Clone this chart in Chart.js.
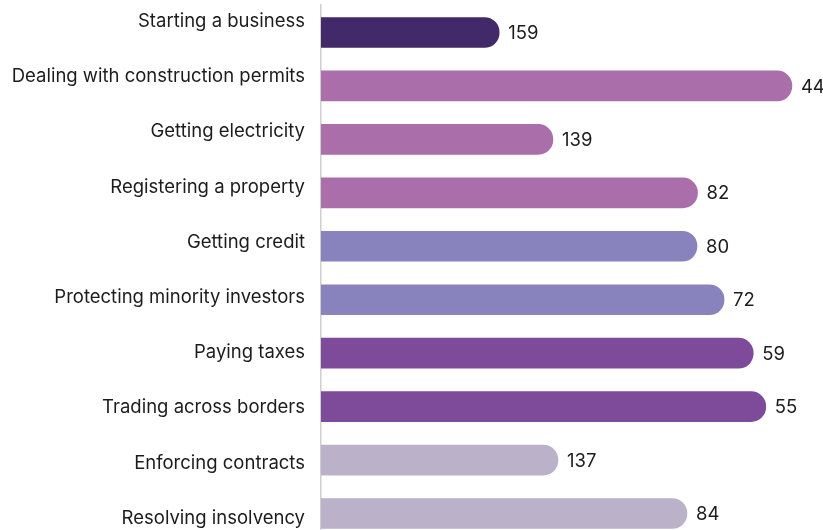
<!DOCTYPE html>
<html>
<head>
<meta charset="utf-8">
<script src="https://cdn.jsdelivr.net/npm/chart.js@4.4.1/dist/chart.umd.min.js"></script>
<style>
  html, body { margin: 0; padding: 0; background: #fff; overflow: hidden; }
  #wrap { position: relative; width: 823px; height: 530px; }
</style>
</head>
<body>
<div id="wrap"><canvas id="chart"></canvas></div>
<script>
// Doing Business indicator areas, top to bottom
const categories = [
  'Starting a business',
  'Dealing with construction permits',
  'Getting electricity',
  'Registering a property',
  'Getting credit',
  'Protecting minority investors',
  'Paying taxes',
  'Trading across borders',
  'Enforcing contracts',
  'Resolving insolvency'
];

// Rank shown at the end of each bar
const ranks = [159, 44, 139, 82, 80, 72, 59, 55, 137, 84];

// Score (0-100) that sets each bar's length
const scores = [35.5, 93.8, 46.2, 75.0, 74.9, 80.3, 86.1, 88.6, 47.2, 72.9];

const barColors = [
  '#42296a',
  '#aa6eab', '#aa6eab', '#aa6eab',
  '#8983bd', '#8983bd',
  '#7e4a9a', '#7e4a9a',
  '#bbb1c9', '#bbb1c9'
];

const TEXT = '#1c1c1c';
const FONT = 'Inter';
const FONT_SIZE = 18.5;

// Writes the rank just past the rounded end of every bar
const rankLabels = {
  id: 'rankLabels',
  afterDatasetsDraw(chart) {
    const ctx = chart.ctx;
    const meta = chart.getDatasetMeta(0);
    ctx.save();
    ctx.font = FONT_SIZE + 'px ' + FONT;
    ctx.fillStyle = TEXT;
    ctx.textAlign = 'left';
    ctx.textBaseline = 'middle';
    meta.data.forEach((bar, i) => {
      ctx.fillText(String(ranks[i]), bar.x + 9, bar.y + 1);
    });
    ctx.restore();
  }
};

new Chart(document.getElementById('chart'), {
  type: 'bar',
  data: {
    datasets: [{
      data: scores.map((s, i) => ({ x: s, y: i })),
      backgroundColor: barColors,
      barThickness: 30,
      borderRadius: 15,
      borderSkipped: 'start',
      yAxisID: 'y'
    }]
  },
  options: {
    indexAxis: 'y',
    responsive: true,
    maintainAspectRatio: false,
    animation: false,
    layout: { padding: { top: 5, right: 0, bottom: 0, left: 0 } },
    plugins: {
      legend: { display: false },
      tooltip: { enabled: false }
    },
    scales: {
      x: { type: 'linear', min: 0, max: 100, display: false },
      y: {
        type: 'linear', reverse: true, bounds: 'data', offset: false,
        min: -0.5145, max: 9.308, display: false
      },
      yl: {
        type: 'linear', axis: 'y', position: 'left', reverse: true, bounds: 'data',
        offset: false,
        min: -0.299, max: 9.212,
        afterBuildTicks: s => { s.ticks = categories.map((_, i) => ({ value: i })); },
        afterFit: s => {
          s.width = 321;
          s.paddingTop = 0;
          s.paddingBottom = 0;
        },
        grid: { display: true, offset: false, drawOnChartArea: false, drawTicks: false },
        border: { display: true, color: '#cfcfcf', width: 1.5 },
        ticks: {
          autoSkip: false,
          padding: 16,
          color: TEXT,
          font: { family: FONT, size: FONT_SIZE },
          callback: v => categories[v]
        }
      }
    }
  },
  plugins: [rankLabels]
});
</script>
</body>
</html>
